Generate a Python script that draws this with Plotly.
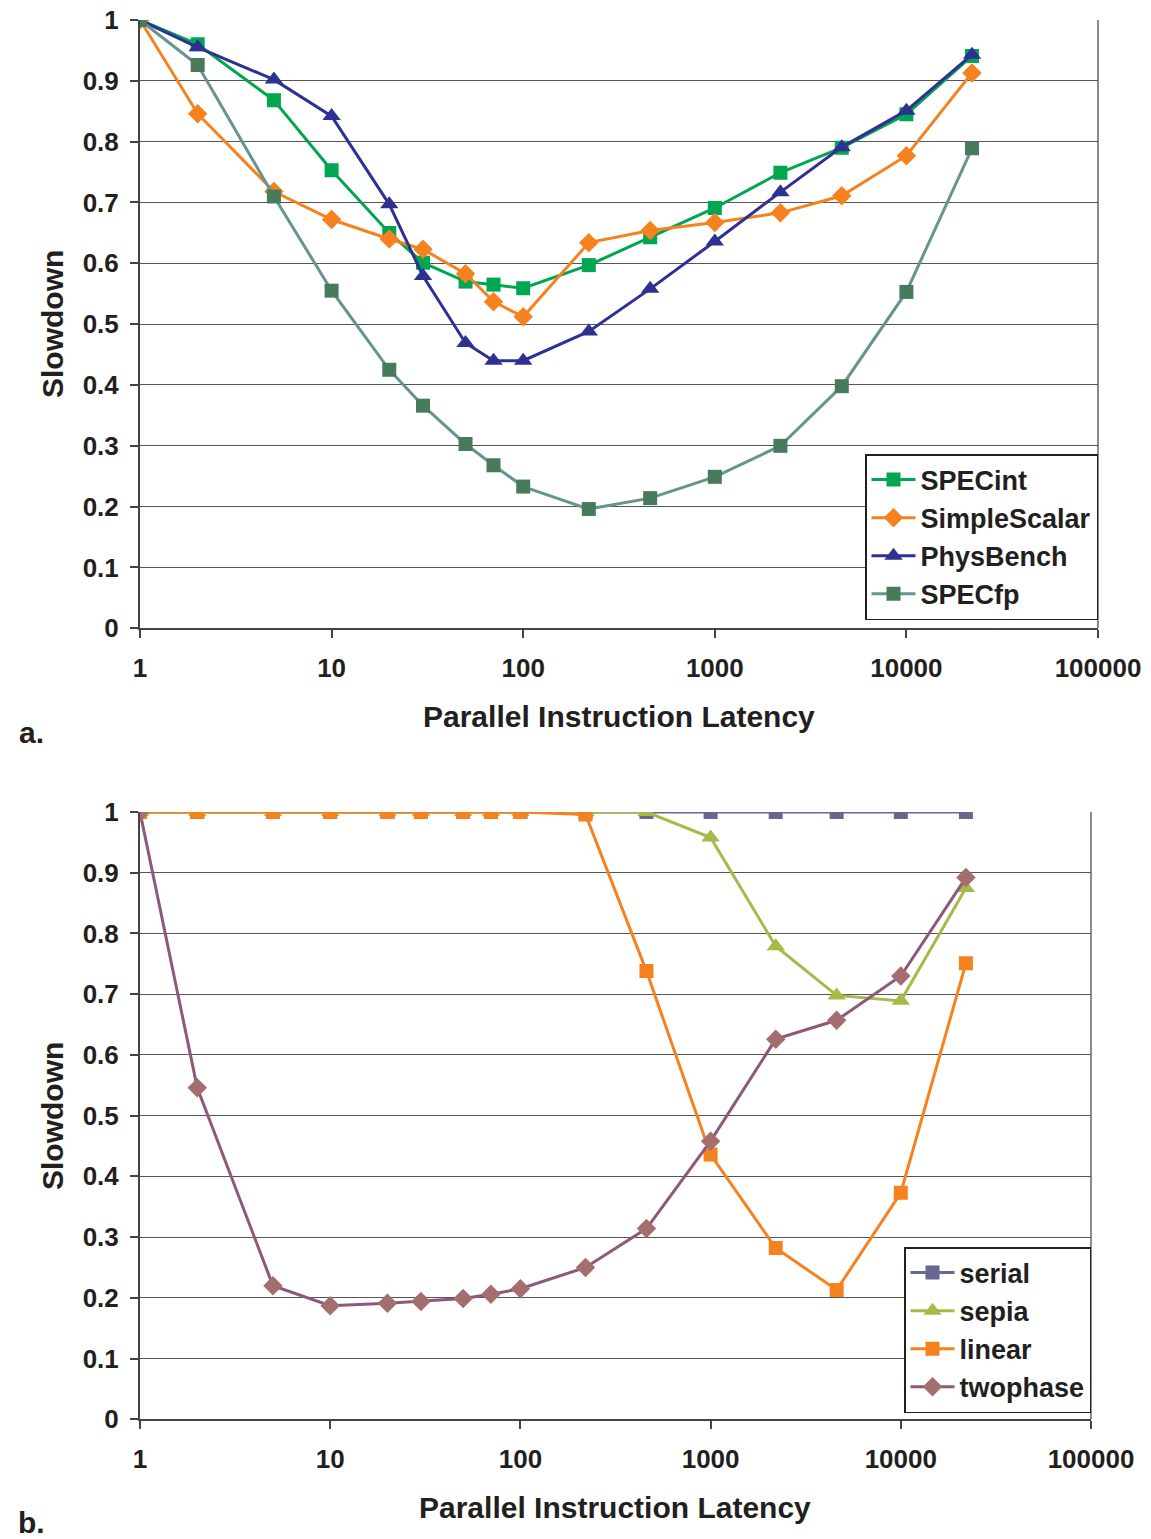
import plotly.graph_objects as go

# Parallel instruction latency (cycles) at which slowdown was measured
latency = [1, 2, 5, 10, 20, 30, 50, 70, 100, 220, 460, 1000, 2200, 4600, 10000, 22000]

# (a) benchmark suites
specint = [1.0, 0.960, 0.868, 0.753, 0.650, 0.601, 0.570, 0.565, 0.559, 0.597, 0.643, 0.691, 0.749, 0.790, 0.845, 0.941]
simplescalar = [1.0, 0.846, 0.718, 0.672, 0.640, 0.623, 0.583, 0.537, 0.512, 0.634, 0.654, 0.667, 0.683, 0.711, 0.777, 0.913]
physbench = [1.0, 0.955, 0.902, 0.842, 0.697, 0.579, 0.469, 0.440, 0.440, 0.488, 0.558, 0.636, 0.717, 0.791, 0.851, 0.943]
specfp = [1.0, 0.926, 0.710, 0.555, 0.425, 0.366, 0.303, 0.268, 0.233, 0.196, 0.214, 0.249, 0.300, 0.398, 0.553, 0.789]

# (b) kernels
serial = [1.0, 1.0, 1.0, 1.0, 1.0, 1.0, 1.0, 1.0, 1.0, 1.0, 1.0, 1.0, 1.0, 1.0, 1.0, 1.0]
sepia = [1.0, 1.0, 1.0, 1.0, 1.0, 1.0, 1.0, 1.0, 1.0, 1.0, 1.0, 0.958, 0.779, 0.698, 0.689, 0.875]
linear = [1.0, 1.0, 1.0, 1.0, 1.0, 1.0, 1.0, 1.0, 1.0, 0.996, 0.738, 0.436, 0.282, 0.213, 0.373, 0.751]
twophase = [1.0, 0.546, 0.220, 0.187, 0.191, 0.194, 0.199, 0.206, 0.215, 0.250, 0.314, 0.458, 0.626, 0.657, 0.730, 0.892]

x_tick_vals = [1, 10, 100, 1000, 10000, 100000]
x_tick_text = ["1", "10", "100", "1000", "10000", "100000"]

W, H = 1151, 1539
FONT = "Liberation Sans, Arial, Helvetica, sans-serif"


def px_x(p):
    return p / W


def px_y(p):
    return 1 - p / H


fig = go.Figure()


def add_series(name, y, line_color, marker_color, symbol, size, xa, ya, legend):
    fig.add_trace(go.Scatter(
        x=latency, y=y, name=name, mode="lines+markers",
        line=dict(color=line_color, width=3),
        marker=dict(symbol=symbol, size=size, color=marker_color,
                    line=dict(width=0)),
        xaxis=xa, yaxis=ya, legend=legend,
    ))


add_series("SPECint", specint, "#00A650", "#00A650", "square", 14, "x", "y", "legend")
add_series("SimpleScalar", simplescalar, "#F5821F", "#F5821F", "diamond", 15, "x", "y", "legend")
add_series("PhysBench", physbench, "#2E3192", "#2E3192", "triangle-up", 16, "x", "y", "legend")
add_series("SPECfp", specfp, "#67948F", "#487A5C", "square", 14, "x", "y", "legend")

add_series("serial", serial, "#666891", "#666891", "square", 14, "x2", "y2", "legend2")
add_series("sepia", sepia, "#A8B94A", "#A8B94A", "triangle-up", 16, "x2", "y2", "legend2")
add_series("linear", linear, "#F5821F", "#F5821F", "square", 14, "x2", "y2", "legend2")
add_series("twophase", twophase, "#8B5A7A", "#A46E6E", "diamond", 15, "x2", "y2", "legend2")

tickfont = dict(family=FONT, size=26, color="#231F20", weight="bold")

xaxis_common = dict(
    type="log", range=[0, 5], tickvals=x_tick_vals, ticktext=x_tick_text,
    ticks="outside", ticklen=8, tickwidth=1.5, tickcolor="#444444",
    showline=True, linecolor="#444444", linewidth=2,
    showgrid=False, zeroline=False, tickfont=tickfont, ticklabelstandoff=7,
    automargin=False,
)
yaxis_common = dict(
    range=[0, 1], dtick=0.1, tick0=0,
    ticks="outside", ticklen=8, tickwidth=1.5, tickcolor="#444444",
    showline=True, linecolor="#444444", linewidth=2,
    showgrid=True, gridcolor="#555555", gridwidth=1.3, zeroline=False,
    tickfont=tickfont, ticklabelstandoff=6, automargin=False,
)

# plot area pixel boxes
top = dict(x0=140, x1=1098, y0=20, y1=628.3)
bot = dict(x0=140, x1=1091, y0=812, y1=1419.3)

legend_style = dict(
    xanchor="right", yanchor="bottom",
    bgcolor="white", bordercolor="#231F20", borderwidth=1.5,
    font=dict(family=FONT, size=27, color="#231F20", weight="bold"),
    tracegroupgap=0, itemwidth=44,
)

fig.update_layout(
    width=W, height=H,
    margin=dict(l=0, r=0, t=0, b=0, autoexpand=False),
    paper_bgcolor="white", plot_bgcolor="white",
    font=dict(family=FONT, color="#231F20"),
    xaxis=dict(xaxis_common, domain=[px_x(top["x0"]), px_x(top["x1"])], anchor="y"),
    yaxis=dict(yaxis_common, domain=[px_y(top["y1"]), px_y(top["y0"])], anchor="x"),
    xaxis2=dict(xaxis_common, domain=[px_x(bot["x0"]), px_x(bot["x1"])], anchor="y2"),
    yaxis2=dict(yaxis_common, domain=[px_y(bot["y1"]), px_y(bot["y0"])], anchor="x2"),
    legend=dict(legend_style, x=px_x(1098), y=px_y(620)),
    legend2=dict(legend_style, x=px_x(1091), y=px_y(1413)),
)

# gray plot-area frame (right edge)
for box in (top, bot):
    fig.add_shape(type="line", xref="paper", yref="paper",
                  x0=px_x(box["x1"]), x1=px_x(box["x1"]),
                  y0=px_y(box["y1"]), y1=px_y(box["y0"]),
                  line=dict(color="#8C8C8C", width=2), layer="below")

title_font = dict(family=FONT, size=30, color="#231F20", weight="bold")

annotations = [
    dict(text="Slowdown", x=px_x(52), y=px_y(324), textangle=-90),
    dict(text="Slowdown", x=px_x(52), y=px_y(1116), textangle=-90),
    dict(text="Parallel Instruction Latency", x=px_x(619), y=px_y(717)),
    dict(text="Parallel Instruction Latency", x=px_x(615), y=px_y(1507)),
    dict(text="a.", x=px_x(31), y=px_y(733)),
    dict(text="b.", x=px_x(31), y=px_y(1522)),
]
for a in annotations:
    fig.add_annotation(xref="paper", yref="paper", showarrow=False,
                       xanchor="center", yanchor="middle", font=title_font, **a)

fig.write_html("out.html")
